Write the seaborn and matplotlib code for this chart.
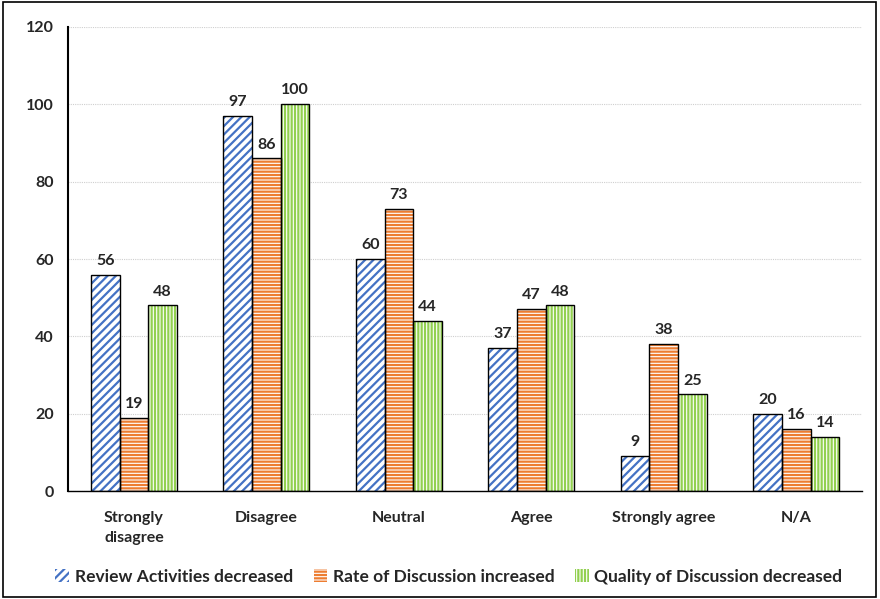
import matplotlib
matplotlib.use("Agg")
import matplotlib.pyplot as plt
from matplotlib.patches import Rectangle, Patch
import pandas as pd
import seaborn as sns

categories = ["Strongly\ndisagree", "Disagree", "Neutral", "Agree", "Strongly agree", "N/A"]
series = ["Review Activities decreased", "Rate of Discussion increased", "Quality of Discussion decreased"]
review_activities = [56, 97, 60, 37, 9, 20]
rate_discussion = [19, 86, 73, 47, 38, 16]
quality_discussion = [48, 100, 44, 48, 25, 14]

colors = ["#4472C4", "#ED7D31", "#92D050"]
hatches = ["////", "-----", "|||||"]

df = pd.DataFrame({
    "category": categories * 3,
    "series": [s for s in series for _ in categories],
    "value": review_activities + rate_discussion + quality_discussion,
})

sns.set_style("white")
plt.rcParams["font.family"] = ["Lato", "DejaVu Sans"]
plt.rcParams["font.weight"] = "bold"
plt.rcParams["hatch.linewidth"] = 1.6

fig = plt.figure(figsize=(8.8, 5.99), dpi=100)
ax = fig.add_axes([0.077, 0.18, 0.903, 0.775])

sns.barplot(data=df, x="category", y="value", hue="series", order=categories,
            hue_order=series, palette=colors, width=0.65, gap=0, legend=False, ax=ax)

# colored hatch on white, then a black outline on top
for i, container in enumerate(ax.containers):
    for bar in container:
        bar.set_facecolor("white")
        bar.set_edgecolor(colors[i])
        bar.set_hatch(hatches[i])
        bar.set_linewidth(0)
        ax.add_patch(Rectangle((bar.get_x(), bar.get_y()), bar.get_width(), bar.get_height(),
                               fill=False, edgecolor="black", linewidth=1.0, zorder=3))
    ax.bar_label(container, padding=5, fontsize=11.5, fontweight="bold")

ax.set_ylim(0, 120)
ax.set_yticks(range(0, 121, 20))
ax.yaxis.grid(True, color="#cfcfcf", linestyle=(0, (1, 1)), linewidth=0.8)
ax.set_axisbelow(True)
ax.set_xlabel("")
ax.set_ylabel("")
for side in ["top", "right"]:
    ax.spines[side].set_visible(False)
ax.spines["left"].set_color("black")
ax.spines["left"].set_linewidth(1.5)
ax.spines["bottom"].set_color("black")
ax.spines["bottom"].set_linewidth(1.0)
ax.tick_params(axis="y", labelsize=11.5, length=0, pad=10)
ax.tick_params(axis="x", labelsize=11.5, length=0, pad=14)
for lbl in ax.get_xticklabels() + ax.get_yticklabels():
    lbl.set_fontweight("bold")
    lbl.set_linespacing(1.6)

handles = [Patch(facecolor="white", edgecolor=colors[i], hatch=hatches[i], linewidth=0) for i in range(3)]
leg = fig.legend(handles, series, loc="center", bbox_to_anchor=(0.51, 0.037), ncol=3,
                 frameon=False, fontsize=12.5, handlelength=0.8, handleheight=0.8,
                 handletextpad=0.3, columnspacing=1.2)
for t in leg.get_texts():
    t.set_fontweight("bold")

fig.patches.append(Rectangle((0.003, 0.003), 0.992, 0.994, transform=fig.transFigure,
                             fill=False, edgecolor="black", linewidth=1.2))

fig.savefig("out.png", dpi=100)
